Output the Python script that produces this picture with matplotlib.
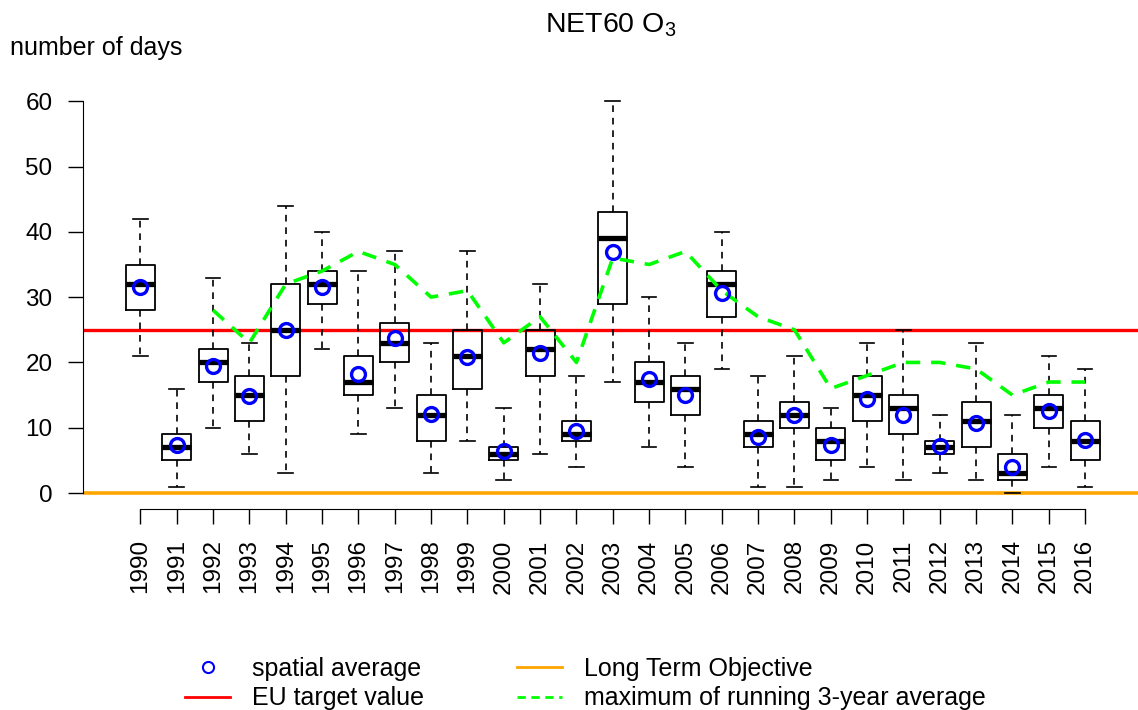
import matplotlib
matplotlib.use("Agg")
import matplotlib.pyplot as plt
from matplotlib.lines import Line2D

plt.rcParams['font.family'] = ['Liberation Sans', 'DejaVu Sans']
plt.rcParams['mathtext.fontset'] = 'custom'
plt.rcParams['mathtext.rm'] = 'Liberation Sans'
plt.rcParams['mathtext.it'] = 'Liberation Sans:italic'

years = list(range(1990, 2017))
whis_lo = [21, 1, 10, 6, 3, 22, 9, 13, 3, 8, 2, 6, 4, 17, 7, 4, 19, 1, 1, 2, 4, 2, 3, 2, 0, 4, 1]
q1 = [28, 5, 17, 11, 18, 29, 15, 20, 8, 16, 5, 18, 8, 29, 14, 12, 27, 7, 10, 5, 11, 9, 6, 7, 2, 10, 5]
median = [32, 7, 20, 15, 25, 32, 17, 23, 12, 21, 6, 22, 9, 39, 17, 16, 32, 9, 12, 8, 15, 13, 7, 11, 3, 13, 8]
q3 = [35, 9, 22, 18, 32, 34, 21, 26, 15, 25, 7, 25, 11, 43, 20, 18, 34, 11, 14, 10, 18, 15, 8, 14, 6, 15, 11]
whis_hi = [42, 16, 33, 23, 44, 40, 34, 37, 23, 37, 13, 32, 18, 60, 30, 23, 40, 18, 21, 13, 23, 25, 12, 23, 12, 21, 19]
spatial_mean = [31.6, 7.3, 19.5, 14.8, 25.0, 31.6, 18.2, 23.7, 12.1, 20.9, 6.5, 21.4, 9.5, 36.9,
                17.4, 15.0, 30.6, 8.6, 11.9, 7.3, 14.4, 12.0, 7.2, 10.7, 4.0, 12.6, 8.1]
run3_years = list(range(1992, 2017))
run3_max = [28, 23, 32, 34, 37, 35, 30, 31, 23, 27, 20, 36, 35, 37, 31, 27, 25, 16, 18, 20, 20, 19, 15, 17, 17]
eu_target = 25
long_term = 0

W, H = 1138, 710
fig = plt.figure(figsize=(W / 100, H / 100), dpi=100)
ax = fig.add_axes([83 / W, 1 - 508.7 / H, (W - 83) / W, (508.7 - 85.6) / H])

pos = list(range(1, len(years) + 1))
stats = []
for i in range(len(years)):
    stats.append(dict(med=median[i], q1=q1[i], q3=q3[i], whislo=whis_lo[i], whishi=whis_hi[i], fliers=[]))

ax.axhline(eu_target, color='#ff0000', lw=2.4, zorder=1)
ax.axhline(long_term, color='#ffa500', lw=2.6, zorder=1)

ax.bxp(stats, positions=pos, widths=0.8, showfliers=False,
       boxprops=dict(color='black', lw=1.3),
       medianprops=dict(color='black', lw=3.8, solid_capstyle='butt'),
       whiskerprops=dict(color='black', lw=1.2, linestyle=(0, (4, 3.5))),
       capprops=dict(color='black', lw=1.2), manage_ticks=False)

ax.plot(pos, spatial_mean, ls='none', marker='o', ms=10, mfc='none', mec='#0000ff', mew=2.4, zorder=5)
run3_pos = [years.index(y) + 1 for y in run3_years]
ax.plot(run3_pos, run3_max, color='#00ff00', lw=2.6, ls=(0, (4, 3)), zorder=4)

ax.set_xlim(-0.58, 1 + (W - 140) / 36.35)
ax.set_ylim(-2.4, 62.4)
for s in ['top', 'right']:
    ax.spines[s].set_visible(False)
ax.spines['left'].set_bounds(0, 60)
ax.spines['bottom'].set_bounds(1, len(years))
ax.set_yticks(range(0, 61, 10))
ax.set_xticks(pos)
ax.set_xticklabels([str(y) for y in years], rotation=90)
ax.tick_params(axis='both', direction='out', length=11, width=1, labelsize=17.5, pad=11)

fig.text(611 / W, 1 - 25 / H, 'NET60 O$_3$', ha='center', va='center', fontsize=20.5)
fig.text(10 / W, 1 - 48 / H, 'number of days', ha='left', va='center', fontsize=18)

handles = [
    Line2D([], [], ls='none', marker='o', ms=8, mfc='none', mec='#0000ff', mew=1.5),
    Line2D([], [], color='#ff0000', lw=2),
    Line2D([], [], color='#ffa500', lw=2),
    Line2D([], [], color='#00ff00', lw=2, ls=(0, (3, 2))),
]
labels = ['spatial average', 'EU target value', 'Long Term Objective', 'maximum of running 3-year average']
fig.legend(handles, labels, ncol=2, frameon=False, loc='upper left',
           bbox_to_anchor=(185 / W, 1 - 657 / H), borderpad=0, borderaxespad=0,
           fontsize=18, handlelength=1.8, handletextpad=0.9, columnspacing=3.7, labelspacing=0.22)

fig.savefig('out.png', dpi=100)
